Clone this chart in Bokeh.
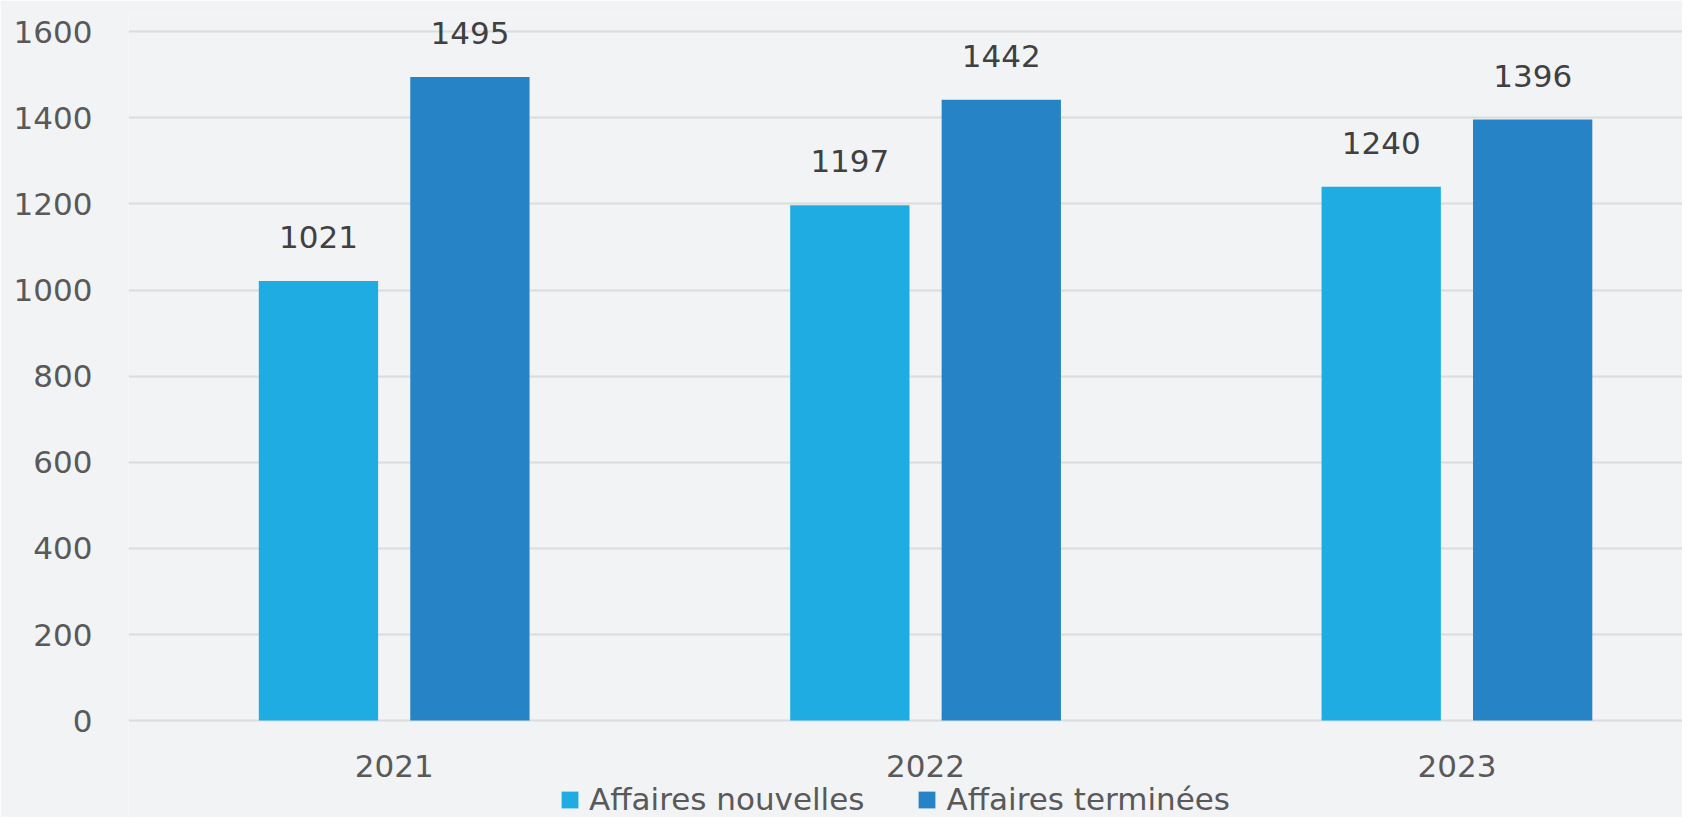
from bokeh.plotting import figure
from bokeh.models import Range1d, FixedTicker, Legend, LegendItem, ColumnDataSource
from bokeh.core.properties import value
from bokeh.embed import file_html
from bokeh.resources import INLINE

years = ["2021", "2022", "2023"]
nouvelles = [1021, 1197, 1240]
terminees = [1495, 1442, 1396]
series_names = ["Affaires nouvelles", "Affaires terminées"]
y_ticks = [0, 200, 400, 600, 800, 1000, 1200, 1400, 1600]

C_LIGHT = "#1EACE3"
C_DARK = "#2683C6"
BG = "#F2F3F5"
FONT = "DejaVu Sans"

centers = [i + 0.5 for i in range(len(years))]
off = 0.1425
bw = 0.2245

src_n = ColumnDataSource(dict(x=[c - off for c in centers], top=nouvelles,
                              lab=[str(v) for v in nouvelles]))
src_t = ColumnDataSource(dict(x=[c + off for c in centers], top=terminees,
                              lab=[str(v) for v in terminees]))
src_years = ColumnDataSource(dict(x=centers, y=[0] * len(years), lab=years))

# frame spans down to the bottom of the figure; 0 sits ~97px above the bottom
p = figure(width=1682, height=817, output_backend="svg", toolbar_location=None,
           x_range=Range1d(0, 2.9245), y_range=Range1d(-225, 1640),
           min_border_left=128, min_border_right=0, min_border_top=14, min_border_bottom=0,
           background_fill_color=BG, border_fill_color=BG, outline_line_color=None)

r1 = p.vbar(x="x", top="top", width=bw, source=src_n, color=C_LIGHT, line_color=None)
r2 = p.vbar(x="x", top="top", width=bw, source=src_t, color=C_DARK, line_color=None)

for s in (src_n, src_t):
    p.text(x="x", y="top", text="lab", source=s, y_offset=-44,
           text_align="center", text_baseline="alphabetic",
           text_font=value(FONT), text_font_size="31px", text_color="#404040")

# category labels under the baseline
p.text(x="x", y="y", text="lab", source=src_years, y_offset=45,
       text_align="center", text_baseline="alphabetic",
       text_font=value(FONT), text_font_size="31px", text_color="#595959")

p.xaxis.visible = False
p.yaxis.ticker = FixedTicker(ticks=y_ticks)
ax = p.yaxis[0]
ax.axis_line_color = None
ax.major_tick_line_color = None
ax.minor_tick_line_color = None
ax.major_tick_out = 0
ax.major_tick_in = 0
ax.major_label_text_font = FONT
ax.major_label_text_font_size = "31px"
ax.major_label_text_color = "#595959"
ax.major_label_standoff = 36

p.xgrid.grid_line_color = None
p.ygrid.grid_line_color = "#DADCDE"
p.ygrid.grid_line_width = 2
p.ygrid.ticker = FixedTicker(ticks=y_ticks)

legend = Legend(items=[LegendItem(label=series_names[0], renderers=[r1]),
                       LegendItem(label=series_names[1], renderers=[r2])],
                orientation="horizontal", location=(431, 0),
                glyph_width=21, glyph_height=21, label_standoff=9, spacing=52,
                label_text_font=FONT, label_text_font_size="31px", label_text_color="#595959",
                padding=0, margin=0, border_line_color=None, background_fill_alpha=0)
p.add_layout(legend, "center")

open("out.html", "w").write(file_html(p, INLINE))
